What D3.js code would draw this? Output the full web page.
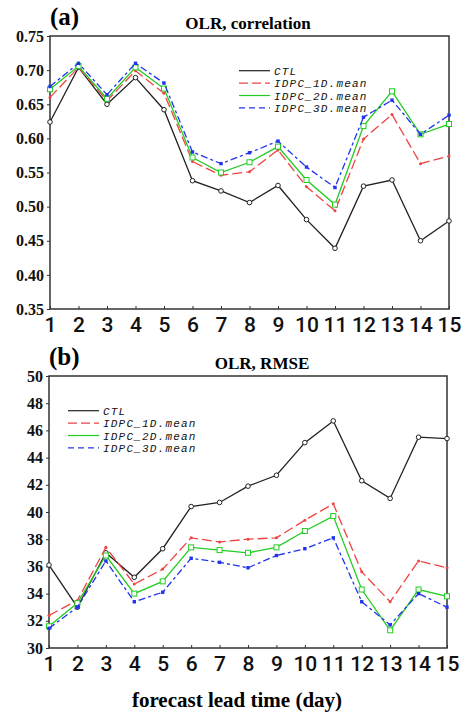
<!DOCTYPE html>
<html>
<head>
<meta charset="utf-8">
<script src="https://cdn.jsdelivr.net/npm/d3@7"></script>
<style>
  body { margin: 0; background: #fff; }
  svg { display: block; }
</style>
</head>
<body>
<div id="viz"></div>
<script>
var days = [1, 2, 3, 4, 5, 6, 7, 8, 9, 10, 11, 12, 13, 14, 15];
var seriesNames = ["CTL", "IDPC_1D.mean", "IDPC_2D.mean", "IDPC_3D.mean"];

// (a) OLR correlation
var corrCTL = [0.624, 0.704, 0.650, 0.689, 0.642, 0.538, 0.523, 0.506, 0.531, 0.481, 0.439, 0.530, 0.539, 0.450, 0.479];
var corr1D  = [0.660, 0.704, 0.655, 0.699, 0.666, 0.566, 0.546, 0.551, 0.583, 0.529, 0.494, 0.599, 0.635, 0.563, 0.574];
var corr2D  = [0.672, 0.706, 0.658, 0.704, 0.673, 0.572, 0.550, 0.565, 0.588, 0.539, 0.503, 0.618, 0.669, 0.606, 0.621];
var corr3D  = [0.676, 0.710, 0.664, 0.710, 0.681, 0.580, 0.563, 0.579, 0.596, 0.558, 0.528, 0.631, 0.656, 0.606, 0.634];
var corrTicks = [0.35, 0.40, 0.45, 0.50, 0.55, 0.60, 0.65, 0.70, 0.75];

// (b) OLR RMSE
var rmseCTL = [36.1, 33.0, 37.0, 35.2, 37.3, 40.4, 40.7, 41.9, 42.7, 45.1, 46.7, 42.3, 41.0, 45.5, 45.4];
var rmse1D  = [32.4, 33.5, 37.4, 34.7, 35.8, 38.1, 37.8, 38.0, 38.1, 39.4, 40.6, 35.6, 33.4, 36.4, 35.9];
var rmse2D  = [31.6, 33.3, 36.8, 34.0, 34.9, 37.4, 37.2, 37.0, 37.4, 38.6, 39.7, 34.3, 31.3, 34.3, 33.8];
var rmse3D  = [31.45, 33.0, 36.4, 33.4, 34.1, 36.6, 36.3, 35.9, 36.8, 37.3, 38.1, 33.4, 31.7, 34.0, 33.0];
var rmseTicks = [30, 32, 34, 36, 38, 40, 42, 44, 46, 48, 50];

var W = 465, H = 716;
var serif = "'Liberation Serif', 'Times New Roman', serif";
var styles = [
    {color: "#222222", dash: null,      legDash: null,  marker: "circle"},
    {color: "#ee4444", dash: "10,4",    legDash: "9,4", marker: "dot"},
    {color: "#22cc22", dash: null,      legDash: null,  marker: "square"},
    {color: "#2233ee", dash: "7,3,3,3", legDash: "6,4", marker: "fsquare"}
];

var svg = d3.select("#viz").append("svg")
    .attr("width", W)
    .attr("height", H);

function panel(spec){
    var g = svg.append("g");
    var x = d3.scaleLinear().domain([1, 15]).range([spec.left, spec.right]);
    var y = d3.scaleLinear().domain(spec.domain).range([spec.bottom, spec.top]);

    // y axis
    var ya = g.append("g")
        .attr("transform", "translate(" + spec.left + ",0)")
        .call(d3.axisLeft(y).tickValues(spec.ticks).tickFormat(d3.format(spec.fmt))
            .tickSizeInner(3).tickSizeOuter(0).tickPadding(3));
    ya.select(".domain").remove();
    ya.selectAll("text")
        .style("font-family", serif)
        .style("font-weight", "bold")
        .style("font-size", "16px")
        .attr("fill", "#111");
    ya.selectAll("line").attr("stroke", "#333");

    // x axis
    var xa = g.append("g")
        .attr("transform", "translate(0," + spec.bottom + ")")
        .call(d3.axisBottom(x).tickValues(days).tickFormat(d3.format("d"))
            .tickSizeInner(-3).tickSizeOuter(0).tickPadding(8));
    xa.select(".domain").remove();
    xa.selectAll("text")
        .style("font-family", "Roboto, 'Noto Sans', sans-serif")
        .style("font-weight", "500")
        .style("font-size", "21px")
        .attr("fill", "#111");
    xa.selectAll("line").attr("stroke", "#333");

    // frame
    g.append("rect")
        .attr("x", spec.left)
        .attr("y", spec.top)
        .attr("width", spec.right - spec.left)
        .attr("height", spec.bottom - spec.top)
        .attr("fill", "none")
        .attr("stroke", "#333")
        .attr("stroke-width", 1.5);

    var line = d3.line()
        .x(function(d, i){ return x(days[i]); })
        .y(function(d){ return y(d); });

    spec.series.forEach(function(vals, k){
        var st = styles[k];
        g.append("path")
            .datum(vals)
            .attr("d", line)
            .attr("fill", "none")
            .attr("stroke", st.color)
            .attr("stroke-width", 1.3)
            .attr("stroke-dasharray", st.dash);

        var m = g.append("g").selectAll("g").data(vals).enter();
        if (st.marker == "circle"){
            m.append("circle")
                .attr("cx", function(d, i){ return x(days[i]); })
                .attr("cy", function(d){ return y(d); })
                .attr("r", 2.3)
                .attr("fill", "#fff")
                .attr("stroke", st.color)
                .attr("stroke-width", 1);
        } else if (st.marker == "dot"){
            m.append("circle")
                .attr("cx", function(d, i){ return x(days[i]); })
                .attr("cy", function(d){ return y(d); })
                .attr("r", 1.5)
                .attr("fill", st.color);
        } else if (st.marker == "square"){
            m.append("rect")
                .attr("x", function(d, i){ return x(days[i]) - 2.5; })
                .attr("y", function(d){ return y(d) - 2.5; })
                .attr("width", 5)
                .attr("height", 5)
                .attr("fill", "#fff")
                .attr("stroke", st.color)
                .attr("stroke-width", 1);
        } else {
            m.append("rect")
                .attr("x", function(d, i){ return x(days[i]) - 1.7; })
                .attr("y", function(d){ return y(d) - 1.7; })
                .attr("width", 3.4)
                .attr("height", 3.4)
                .attr("fill", st.color);
        }
    });

    // legend
    var lg = g.append("g");
    seriesNames.forEach(function(name, k){
        var st = styles[k];
        var ly = spec.legY + k * 12.4;
        lg.append("line")
            .attr("x1", spec.legX)
            .attr("x2", spec.legX + 31)
            .attr("y1", ly)
            .attr("y2", ly)
            .attr("stroke", st.color)
            .attr("stroke-width", 1.2)
            .attr("stroke-dasharray", st.legDash);
        lg.append("text")
            .attr("x", spec.legX + 35)
            .attr("y", ly + 4)
            .style("font-family", "'Liberation Mono', 'DejaVu Sans Mono', monospace")
            .style("font-style", "italic")
            .style("font-size", "11px")
            .style("letter-spacing", "1.2px")
            .attr("fill", "#111")
            .text(name);
    });

    // panel letter and title
    g.append("text")
        .attr("x", spec.left)
        .attr("y", spec.top - 11)
        .style("font-family", serif)
        .style("font-weight", "bold")
        .style("font-size", "25px")
        .text(spec.letter);
    g.append("text")
        .attr("x", spec.titleX)
        .attr("y", spec.top - 7)
        .attr("text-anchor", "middle")
        .style("font-family", serif)
        .style("font-weight", "bold")
        .style("font-size", "17px")
        .text(spec.title);
}

panel({
    left: 50, right: 449, top: 36, bottom: 309,
    domain: [0.35, 0.75], ticks: corrTicks, fmt: ".2f",
    series: [corrCTL, corr1D, corr2D, corr3D],
    legX: 239, legY: 70.7,
    letter: "(a)", title: "OLR, correlation", titleX: 248
});

panel({
    left: 49, right: 447, top: 376, bottom: 648,
    domain: [30, 50], ticks: rmseTicks, fmt: "d",
    series: [rmseCTL, rmse1D, rmse2D, rmse3D],
    legX: 68, legY: 410.7,
    letter: "(b)", title: "OLR, RMSE", titleX: 262
});

svg.append("text")
    .attr("x", 237)
    .attr("y", 707)
    .attr("text-anchor", "middle")
    .style("font-family", serif)
    .style("font-weight", "bold")
    .style("font-size", "21px")
    .text("forecast lead time (day)");
</script>
</body>
</html>
